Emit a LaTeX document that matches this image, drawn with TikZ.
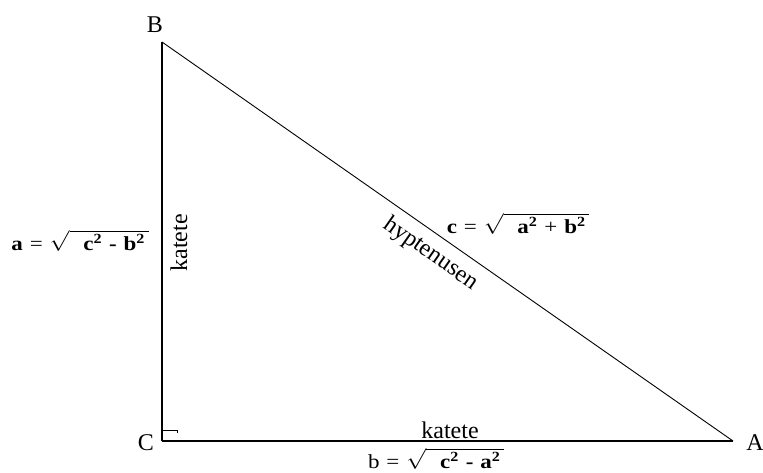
\documentclass[tikz,border=0pt]{standalone}
\usepackage{amsmath}
\usepackage{fontspec}
\setmainfont{Liberation Serif}
\usetikzlibrary{positioning}

\newcommand{\sq}[1]{\textbf{#1}\textsuperscript{\textbf{2}}}
\newcommand{\gap}{\hspace{6pt}}
\newcommand{\rootof}[1]{$\sqrt{\hspace{12pt}\text{#1}\hspace{3pt}}$}

\begin{document}
\begin{tikzpicture}[x=1pt,y=-1pt,font=\fontsize{24}{27}\selectfont]
    \tikzset{formula/.style={font=\fontsize{20}{23}\selectfont,xscale=1.15,transform shape,inner sep=1pt}}
    \useasboundingbox (0,0) rectangle (763,473);
    \coordinate (C) at (162,441);
    \coordinate (B) at (162,42);
    \coordinate (A) at (733,441);
    \node (lb) at (155,25) {B};
    \node (lc) at (146,443) {C};
    \node (la) at (755,443) {A};
    \node (kv) [rotate=90] at (179,243) {katete};
    \node (kh) at (450,430) {katete};
    \node (hyp) [rotate=-35] at (431,254) {hyptenusen};
    \node (fa) [formula] at (80,241) {\textbf{a}\gap=\gap\rootof{\sq{c}\gap\textbf{-}\gap\sq{b}}};
    \node (fc) [formula] at (518,224) {\textbf{c}\gap=\gap\rootof{\sq{a}\gap+\gap\sq{b}}};
    \node (fb) [formula] at (436,459) {b\gap=\gap\rootof{\sq{c}\gap\textbf{-}\gap\sq{a}}};
    \draw[line width=2pt] (B) -- (C);
    \draw[line width=1.3pt] (C) -- (A);
    \draw[line width=0.9pt] (A) -- (B);
    % right angle mark
    \draw[line width=0.6pt] ([yshift=11pt]C) -- ++(15,0) -- ++(0,3);
\end{tikzpicture}
\end{document}
